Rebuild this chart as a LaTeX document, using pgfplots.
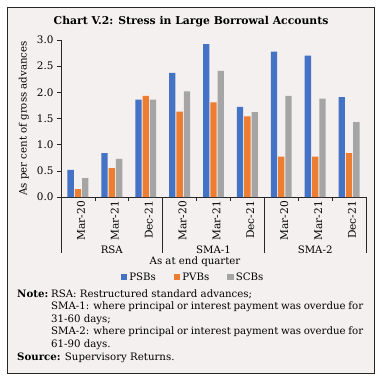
\documentclass[border=0pt]{standalone}
\usepackage{fontspec}
\setmainfont{DejaVu Serif}
\usepackage{pgfplots}
\pgfplotsset{compat=1.18}
\definecolor{bg}{RGB}{244,240,240}
\definecolor{cpsb}{RGB}{68,114,196}
\definecolor{cpvb}{RGB}{237,125,49}
\definecolor{cscb}{RGB}{165,165,165}
\pgfplotstableread{
x psb pvb scb
0 0.52 0.15 0.36
1 0.84 0.55 0.73
2 1.86 1.93 1.86
3 2.37 1.63 2.02
4 2.92 1.81 2.41
5 1.72 1.54 1.62
6 2.78 0.77 1.93
7 2.70 0.77 1.88
8 1.91 0.84 1.43
}\datatable
\newcommand{\fs}{\fontsize{10.2}{12}\selectfont}
\begin{document}
\begin{tikzpicture}
\useasboundingbox (0pt,0pt) rectangle (382pt,381pt);
\fill[white] (0pt,0pt) rectangle (382pt,381pt);
\draw[fill=bg, draw=black!85, line width=0.8pt] (7pt,8pt) rectangle (374pt,374pt);
\node[font=\bfseries\fontsize{10.8}{13}\selectfont] at (191pt,359pt) {Chart V.2: Stress in Large Borrowal Accounts};
\begin{axis}[
  at={(61pt,184pt)}, anchor=south west,
  scale only axis, width=305pt, height=157pt,
  ybar=1pt, bar width=6.3pt,
  xmin=-0.5, xmax=8.5, ymin=0, ymax=3,
  clip=false,
  axis x line*=bottom, axis y line*=left,
  axis line style={black!85, line width=0.6pt, -},
  ytick={0,0.5,...,3},
  yticklabel style={font=\fontsize{10.4}{12}\selectfont, /pgf/number format/.cd, fixed, fixed zerofill, precision=1, assume math mode=true},
  ytick style={black!85, line width=0.6pt},
  tick align=outside,
  major tick length=4pt,
  xtick={0,...,8},
  xticklabels={Mar-20,Mar-21,Dec-21,Mar-20,Mar-21,Dec-21,Mar-20,Mar-21,Dec-21},
  x tick style={draw=none},
  minor xtick={0.5,1.5,3.5,4.5,6.5,7.5},
  minor x tick style={draw=black!85, line width=0.6pt},
  minor tick length=4pt,
  xticklabel style={rotate=90, anchor=east, inner sep=0pt, yshift=-3pt, font=\fontsize{10.6}{12}\selectfont},
  legend style={at={(axis description cs:0.433,-0.51)}, anchor=center, draw=none, fill=none, font=\fs, legend columns=3,
    /tikz/every even column/.append style={column sep=16pt}},
  legend image code/.code={\fill[#1] (0pt,-3pt) rectangle (6.5pt,3.5pt);},
]
\addplot[fill=cpsb, draw=none] table[x=x,y=psb]{\datatable};
\addplot[fill=cpvb, draw=none] table[x=x,y=pvb]{\datatable};
\addplot[fill=cscb, draw=none] table[x=x,y=scb]{\datatable};
\legend{PSBs,PVBs,SCBs}
\pgfplotsinvokeforeach{-0.5,2.5,5.5,8.5}{
  \draw[black!85, line width=0.6pt] (axis cs:#1,0) -- ([yshift=-56pt]axis cs:#1,0);
}
\node[font=\fs] at ([yshift=-53pt]axis cs:1,0) {RSA};
\node[font=\fs] at ([yshift=-53pt]axis cs:4,0) {SMA-1};
\node[font=\fs] at ([yshift=-53pt]axis cs:7,0) {SMA-2};
\end{axis}
\node[font=\fs, rotate=90] at (24pt,262.5pt) {As per cent of gross advances};
\node[font=\fs] at (195pt,119pt) {As at end quarter};
\node[font=\fs\bfseries, anchor=base west, inner sep=0pt] at (17pt,84pt) {Note:};
\node[font=\fs, anchor=base west, inner sep=0pt] at (51pt,84pt) {RSA: Restructured standard advances;};
\node[font=\fs, anchor=base west, inner sep=0pt] at (51pt,71.5pt) {\makebox[312pt][s]{SMA-1: where principal or interest payment was overdue for}};
\node[font=\fs, anchor=base west, inner sep=0pt] at (51pt,59pt) {31-60 days;};
\node[font=\fs, anchor=base west, inner sep=0pt] at (51pt,46.5pt) {\makebox[312pt][s]{SMA-2: where principal or interest payment was overdue for}};
\node[font=\fs, anchor=base west, inner sep=0pt] at (51pt,34pt) {61-90 days.};
\node[font=\fs, anchor=base west, inner sep=0pt] at (17pt,21pt) {\textbf{Source:} Supervisory Returns.};
\end{tikzpicture}
\end{document}
